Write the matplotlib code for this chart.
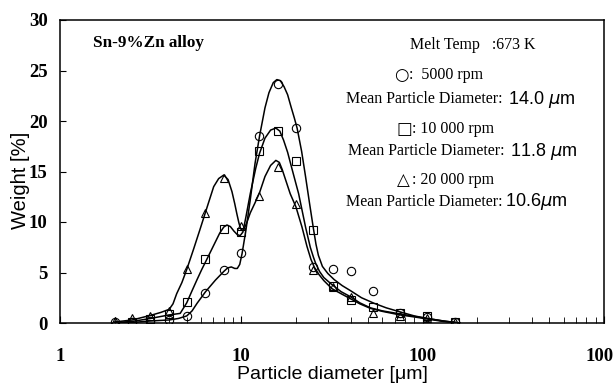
import numpy as np
import matplotlib
matplotlib.use("Agg")
from matplotlib import pyplot as plt
from matplotlib.ticker import LogLocator, NullFormatter, FixedLocator

# #############################################################################
# Data
# #############################################################################

# sieve sizes [um]
sizes = [2.0, 2.5, 3.15, 4.0, 5.0, 6.3, 8.0, 10.0, 12.5, 16.0, 20.0, 25.0,
         32.0, 40.0, 53.0, 75.0, 106.0, 150.0]

w_5000 = [0.05, 0.05, 0.15, 0.3, 0.7, 3.0, 5.2, 6.9, 18.5, 23.7, 19.3, 5.5,
          5.3, 5.1, 3.2, 1.0, 0.6, 0.1]
w_10000 = [np.nan, 0.1, 0.4, 0.9, 2.1, 6.3, 9.3, 9.0, 17.0, 19.0, 16.0, 9.2,
           3.7, 2.3, 1.55, 1.0, 0.7, 0.1]
w_20000 = [0.2, 0.45, 0.7, 1.2, 5.3, 10.9, 14.4, 9.6, 12.6, 15.4, 11.8, 5.2,
           3.6, 2.6, 1.0, 0.7, 0.5, 0.1]

# fitted curves
fit_x_5000 = [2.0, 2.5, 3.15, 4.0, 4.5, 5.0, 5.35, 5.7, 6.35, 7.2, 8.0, 8.4,
              8.8, 9.2, 9.5, 9.8, 10.1, 10.6, 11.2, 11.9, 12.6, 13.5, 14.2,
              15.0, 15.7, 16.4, 17.2, 18.0, 18.8, 19.6, 20.3, 21.5, 22.6,
              23.8, 25.0, 25.8, 26.6, 28.0, 30.0, 32.5, 36.0, 40.0, 46.0,
              54.0, 63.0, 75.0, 90.0, 106.0, 130.0, 160.0]
fit_y_5000 = [0.0, 0.05, 0.2, 0.3, 0.45, 0.7, 1.2, 1.95, 3.1, 4.25, 5.1, 5.45,
              5.55, 5.4, 5.4, 5.8, 6.9, 9.2, 12.2, 15.8, 18.5, 21.3, 22.8,
              23.8, 24.1, 24.0, 23.4, 22.6, 21.4, 20.3, 19.3, 17.0, 14.5,
              11.8, 9.3, 7.8, 6.7, 5.6, 4.9, 4.3, 3.7, 3.2, 2.5,
              1.95, 1.5, 1.1, 0.7, 0.45, 0.2, 0.0]

fit_x_10000 = [2.0, 2.5, 3.15, 4.0, 4.6, 5.0, 5.35, 5.7, 6.05, 6.45, 7.0, 7.6,
               8.0, 8.33, 8.7, 9.1, 9.5, 9.85, 10.2, 10.6, 11.2, 12.0, 12.6,
               13.5, 14.5, 15.5, 16.3, 17.1, 18.0, 19.0, 20.0, 20.7, 21.6,
               22.6, 24.0, 25.0, 25.7, 27.0, 28.5, 31.6, 35.5, 40.0, 45.0,
               51.5, 60.0, 75.0, 90.0, 106.0, 130.0, 160.0]
fit_y_10000 = [0.05, 0.15, 0.45, 0.8, 0.95, 2.0, 3.2, 4.3, 5.3, 6.3, 7.6, 8.9,
               9.5, 9.7, 9.55, 9.1, 8.75, 8.65, 9.0, 10.5, 12.8, 15.3, 16.8,
               18.3, 19.1, 19.3, 19.0, 18.1, 16.9, 15.3, 13.8, 12.8, 11.2,
               9.5, 7.5, 6.5, 5.9, 5.1, 4.5, 3.8, 3.1, 2.6, 2.0,
               1.5, 1.2, 0.9, 0.65, 0.45, 0.2, 0.0]

fit_x_20000 = [2.0, 2.5, 3.15, 3.6, 4.0, 4.2, 4.4, 4.7, 5.0, 5.45, 5.9, 6.3,
               6.7, 7.04, 7.5, 8.0, 8.45, 8.88, 9.2, 9.45, 9.7, 9.9, 10.1,
               10.35, 10.7, 11.2, 11.9, 12.6, 13.5, 14.5, 15.5, 16.2, 16.8,
               17.6, 18.6, 20.0, 21.6, 23.0, 24.2, 25.3, 26.8, 28.5, 31.6,
               35.5, 40.0, 45.0, 51.5, 60.0, 75.0, 90.0, 106.0, 130.0, 160.0]
fit_y_20000 = [0.1, 0.3, 0.75, 1.05, 1.35, 1.9, 2.9, 4.0, 5.3, 7.3, 9.2, 10.8,
               12.3, 13.5, 14.3, 14.65, 14.2, 13.0, 11.8, 10.8, 9.9, 9.35, 9.15,
               9.3, 9.9, 10.9, 11.9, 12.9, 14.5, 15.6, 16.1, 15.9, 15.2,
               14.1, 12.8, 11.5, 9.5, 7.6, 6.3, 5.5, 4.8, 4.2, 3.4,
               2.9, 2.4, 1.9, 1.45, 1.15, 0.8, 0.6, 0.4, 0.15, 0.0]

W, H = 613, 383

fig = plt.figure(figsize=(W / 100, H / 100), dpi=100)
ax = fig.add_axes([60 / W, 1 - 323 / H, 544 / W, 303 / H])

for fx, fy in [(fit_x_5000, fit_y_5000), (fit_x_10000, fit_y_10000),
               (fit_x_20000, fit_y_20000)]:
    ax.plot(fx, fy, color="black", lw=1.1, solid_joinstyle="round")

mk = dict(linestyle="none", mfc="none", mec="black", ms=6, mew=0.8, zorder=3)
ax.plot(sizes, w_5000, marker="o", **mk)
ax.plot(sizes, w_10000, marker="s", **mk)
ax.plot(sizes, w_20000, marker="^", **mk)

ax.set_xscale("log")
ax.set_xlim(1, 1000)
ax.set_ylim(0, 30)
ax.yaxis.set_major_locator(FixedLocator([0, 5, 10, 15, 20, 25, 30]))
ax.xaxis.set_major_locator(FixedLocator([1, 10, 100, 1000]))
ax.xaxis.set_minor_locator(LogLocator(base=10, subs=np.arange(2, 10)))
ax.xaxis.set_minor_formatter(NullFormatter())
ax.set_xticklabels(["1", "10", "100", "1000"])

for lab in ax.get_xticklabels() + ax.get_yticklabels():
    lab.set_fontfamily("Liberation Serif")
    lab.set_fontweight("bold")
    lab.set_fontsize(13.5)

ax.tick_params(axis="both", which="both", direction="in", top=False, right=False)
ax.tick_params(axis="x", which="major", length=5, pad=18)
ax.tick_params(axis="x", which="minor", length=4)
ax.tick_params(axis="y", which="major", length=4, pad=9)
for s in ax.spines.values():
    s.set_linewidth(1.1)

ax.set_ylabel("Weight [%]", family="Liberation Sans", fontsize=14.5)
ax.yaxis.set_label_coords(-0.056, 0.47)
ax.set_xlabel("Particle diameter [μm]", family="Liberation Sans", fontsize=14)
ax.xaxis.set_label_coords(0.5, -0.143)


def ftext(px, py, s, **kw):
    fig.text(px / W, 1 - py / H, s, va="center", **kw)


serif = "Liberation Serif"
sans = "Liberation Sans"
fs = 11.5

ftext(93, 43, "Sn-9%Zn alloy", family=serif, weight="bold", fontsize=12.3)
ftext(410, 45, "Melt Temp   :673 K", family=serif, fontsize=fs)

ftext(394, 75, "○", family="DejaVu Sans", fontsize=12)
ftext(409, 75, ":  5000 rpm", family=serif, fontsize=fs)
ftext(503, 99, "Mean Particle Diameter:", family=serif, fontsize=fs, ha="right")
ftext(508, 99, "14.0 $\\mu$m", family=sans, fontsize=13)

ftext(397, 129, "□", family="DejaVu Sans", fontsize=12)
ftext(412, 129, ": 10 000 rpm", family=serif, fontsize=fs)
ftext(505, 151, "Mean Particle Diameter:", family=serif, fontsize=fs, ha="right")
ftext(510, 151, "11.8 $\\mu$m", family=sans, fontsize=13)

ftext(397, 180, "△", family="DejaVu Sans", fontsize=12)
ftext(412, 180, ": 20 000 rpm", family=serif, fontsize=fs)
ftext(502, 202, "Mean Particle Diameter:", family=serif, fontsize=fs, ha="right")
ftext(505, 202, "10.6$\\mu$m", family=sans, fontsize=13)

fig.savefig("out.png", dpi=100)
